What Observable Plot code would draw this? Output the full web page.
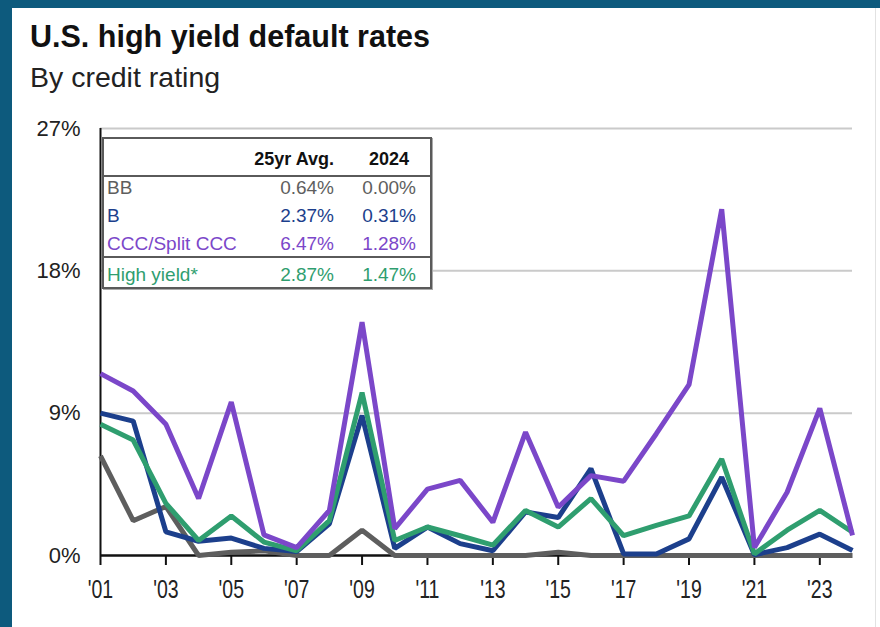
<!DOCTYPE html>
<html><head><meta charset="utf-8">
<script src="https://cdn.jsdelivr.net/npm/d3@7"></script>
<script src="https://cdn.jsdelivr.net/npm/@observablehq/plot@0.6"></script>
<style>
html,body{margin:0;padding:0;}
body{width:880px;height:627px;background:#0d5a7d;position:relative;overflow:hidden;font-family:"Liberation Sans",Arial,sans-serif;}
#panel{position:absolute;left:12px;top:8px;right:0;bottom:0;background:#fff;}
#edge{position:absolute;left:875px;top:8px;width:1px;bottom:0;background:#e2e2e2;}
#title{position:absolute;left:30px;top:21px;font-size:30.5px;line-height:30px;font-weight:bold;color:#111;white-space:nowrap;}
#subtitle{position:absolute;left:30px;top:63px;font-size:28.5px;line-height:28px;color:#222;white-space:nowrap;}
#chart{position:absolute;left:0;top:110px;}
#legend{position:absolute;left:102px;top:137px;width:326px;height:148px;border:2px solid #5a5a5a;background:#fff;box-shadow:1px 1px 0 #aaa;font-size:19px;}
#legend .t{position:absolute;white-space:nowrap;line-height:20px;}
#legend .line{position:absolute;left:0;right:0;height:2px;background:#5a5a5a;}
</style></head>
<body>
<div id="panel"></div>
<div id="edge"></div>
<div id="title">U.S. high yield default rates</div>
<div id="subtitle">By credit rating</div>
<div id="chart"></div>
<div id="legend"></div>
<script>
// ---- data ----
const years = [2001,2002,2003,2004,2005,2006,2007,2008,2009,2010,2011,2012,2013,2014,2015,2016,2017,2018,2019,2020,2021,2022,2023,2024];
const bb  = [6.3,2.2,3.1,0.0,0.2,0.3,0.0,0.0,1.6,0.0,0.0,0.0,0.0,0.0,0.2,0.0,0.0,0.0,0.0,0.0,0.0,0.0,0.0,0.0];
const b   = [9.0,8.5,1.5,0.9,1.1,0.45,0.25,2.0,8.85,0.45,1.8,0.75,0.3,2.75,2.4,5.5,0.1,0.1,1.05,4.95,0.05,0.5,1.35,0.31];
const ccc = [11.5,10.4,8.3,3.6,9.7,1.3,0.5,2.85,14.75,1.7,4.2,4.75,2.1,7.8,3.05,5.05,4.7,7.7,10.8,21.9,0.5,4.0,9.3,1.28];
const hy  = [8.3,7.3,3.3,0.95,2.5,0.85,0.3,2.2,10.3,0.95,1.8,1.25,0.65,2.85,1.8,3.6,1.25,1.9,2.5,6.1,0.1,1.6,2.85,1.47];
const seriesNames = ["BB","B","CCC/Split CCC","High yield"];
const seriesColors = ["#5e5e5e","#1c3f8c","#7b47c9","#2f9e6f"];
const yTicks = [0,9,18,27];
const xTicks = [2001,2003,2005,2007,2009,2011,2013,2015,2017,2019,2021,2023];
const tableHeaders = ["25yr Avg.","2024"];
const tableLabels = ["BB","B","CCC/Split CCC","High yield*"];
const avg25 = ["0.64%","2.37%","6.47%","2.87%"];
const val2024 = ["0.00%","0.31%","1.28%","1.47%"];

// ---- chart ----
const seriesValues = [bb, b, hy, ccc];
const seriesOrder = ["BB","B","High yield","CCC/Split CCC"];
const rows = [];
seriesOrder.forEach((name, i) => {
  years.forEach((yr, j) => rows.push({series: name, year: yr, value: seriesValues[i][j]}));
});

const chart = Plot.plot({
  width: 880,
  height: 517,
  marginLeft: 100,
  marginRight: 28,
  marginTop: 18,
  marginBottom: 72,
  style: {fontFamily: '"Liberation Sans", Arial, sans-serif', background: "transparent", overflow: "visible"},
  x: {domain: [years[0], years[years.length - 1]], type: "linear"},
  y: {domain: [0, 27]},
  color: {domain: seriesNames, range: seriesColors},
  marks: [
    Plot.gridY(yTicks.slice(1), {stroke: "#cacaca", strokeOpacity: 1, strokeWidth: 2}),
    Plot.axisY(yTicks, {tickSize: 0, tickPadding: 20, fontSize: 22, fill: "#222", tickFormat: d => d + "%", label: null}),
    Plot.axisX(xTicks, {tickSize: 10, tickPadding: 15, fontSize: 25, fill: "#222", stroke: "#111", strokeWidth: 2, tickFormat: d => "'" + String(d).slice(2), label: null}),
    Plot.ruleY([0], {stroke: "#111", strokeWidth: 2.5}),
    Plot.ruleX([years[0]], {y1: 0, y2: 27, stroke: "#111", strokeWidth: 2}),
    Plot.line(rows, {x: "year", y: "value", z: "series", stroke: "series", strokeWidth: 5, strokeLinejoin: "miter", strokeLinecap: "butt"})
  ]
});
document.getElementById("chart").appendChild(chart);

// condense x tick labels horizontally (reference uses a narrow face)
chart.querySelectorAll('g[aria-label="x-axis tick label"] text').forEach(t => {
  const w = t.getComputedTextLength();
  if (w > 0) {
    t.setAttribute("textLength", (w * 0.78).toFixed(1));
    t.setAttribute("lengthAdjust", "spacingAndGlyphs");
  }
});

// ---- legend table ----
const lg = document.getElementById("legend");
function addText(txt, opts) {
  const d = document.createElement("div");
  d.className = "t";
  d.textContent = txt;
  Object.assign(d.style, opts);
  lg.appendChild(d);
}
addText(tableHeaders[0], {right: (428 - 332) + "px", top: "10px", fontWeight: "bold", fontSize: "18px", color: "#111"});
addText(tableHeaders[1], {right: (428 - 407) + "px", top: "10px", fontWeight: "bold", fontSize: "18px", color: "#111"});
const sep1 = document.createElement("div"); sep1.className = "line"; sep1.style.top = "36px"; lg.appendChild(sep1);
const rowTops = [39, 67, 95, 126];
tableLabels.forEach((lab, i) => {
  const col = seriesColors[i];
  addText(lab, {left: "3px", top: rowTops[i] + "px", color: col});
  addText(avg25[i], {right: (428 - 332) + "px", top: rowTops[i] + "px", color: col});
  addText(val2024[i], {right: (428 - 414) + "px", top: rowTops[i] + "px", color: col});
});
const sep2 = document.createElement("div"); sep2.className = "line"; sep2.style.top = "117px"; lg.appendChild(sep2);
</script>
</body></html>
